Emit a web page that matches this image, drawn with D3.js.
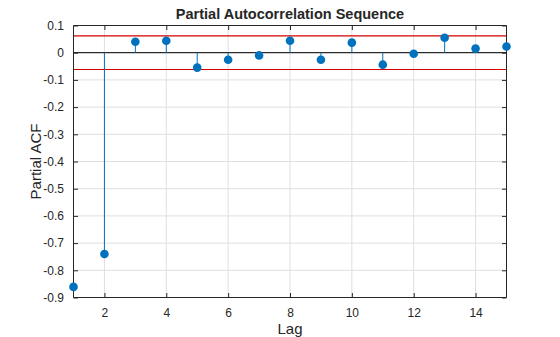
<!DOCTYPE html>
<html>
<head>
<meta charset="utf-8">
<script src="https://cdn.jsdelivr.net/npm/d3@7"></script>
<style>
  html, body { margin: 0; padding: 0; background: #fff; }
  svg { display: block; }
  text { font-family: "Liberation Sans", Arial, Helvetica, sans-serif; fill: #262626; }
</style>
</head>
<body>
<svg id="chart" width="560" height="337"></svg>
<script>
// ---- data ----
const lags = [1, 2, 3, 4, 5, 6, 7, 8, 9, 10, 11, 12, 13, 14, 15];
const pacf = [-0.861, -0.740, 0.040, 0.044, -0.055, -0.026, -0.010, 0.044, -0.026, 0.037, -0.044, -0.004, 0.055, 0.015, 0.023];
const bound = 0.062;
const xTicks = [2, 4, 6, 8, 10, 12, 14];
const yTicks = [0.1, 0, -0.1, -0.2, -0.3, -0.4, -0.5, -0.6, -0.7, -0.8, -0.9];
const titleText = "Partial Autocorrelation Sequence";
const xLabel = "Lag";
const yLabel = "Partial ACF";

// ---- layout ----
const svg = d3.select("#chart");
const L = 73.5, R = 506.5, T = 25.5, B = 297.5;
const x = d3.scaleLinear().domain([1, 15]).range([L, R]);
const y = d3.scaleLinear().domain([-0.9, 0.1]).range([B, T]);
const axisColor = "#262626";
const blue = "#0072BD";

// grid
const g = svg.append("g");
g.selectAll(".gx").data(xTicks).join("line")
  .attr("x1", d => x(d)).attr("x2", d => x(d)).attr("y1", T).attr("y2", B)
  .attr("stroke", "#dfdfdf").attr("stroke-width", 1);
g.selectAll(".gy").data(yTicks).join("line")
  .attr("y1", d => y(d)).attr("y2", d => y(d)).attr("x1", L).attr("x2", R)
  .attr("stroke", "#dfdfdf").attr("stroke-width", 1);

// zero line
g.append("line").attr("x1", L).attr("x2", R).attr("y1", y(0)).attr("y2", y(0))
  .attr("stroke", "#000").attr("stroke-width", 1);

// bounds
[bound, -bound].forEach(b => {
  g.append("line").attr("x1", L).attr("x2", R).attr("y1", y(b)).attr("y2", y(b))
    .attr("stroke", "#d40000").attr("stroke-width", 1.1);
});

// stems
const data = lags.map((l, i) => ({ lag: l, v: pacf[i] }));
g.selectAll(".stem").data(data).join("line")
  .attr("x1", d => x(d.lag)).attr("x2", d => x(d.lag))
  .attr("y1", y(0)).attr("y2", d => y(d.v))
  .attr("stroke", blue).attr("stroke-width", 1);

// axes (box)
const xb = svg.append("g").attr("transform", `translate(0,${B})`)
  .call(d3.axisBottom(x).tickValues(xTicks).tickSizeInner(-4.5).tickSizeOuter(0).tickPadding(11));
const xt = svg.append("g").attr("transform", `translate(0,${T})`)
  .call(d3.axisTop(x).tickValues(xTicks).tickSizeInner(-4.5).tickSizeOuter(0).tickFormat(""));
const yl = svg.append("g").attr("transform", `translate(${L},0)`)
  .call(d3.axisLeft(y).tickValues(yTicks).tickSizeInner(-4.5).tickSizeOuter(0).tickPadding(9.5)
    .tickFormat(d => d === 0 ? "0" : d3.format(".1f")(d).replace("−", "-")));
const yr = svg.append("g").attr("transform", `translate(${R},0)`)
  .call(d3.axisRight(y).tickValues(yTicks).tickSizeInner(-4.5).tickSizeOuter(0).tickFormat(""));
[xb, xt, yl, yr].forEach(a => {
  a.select(".domain").attr("stroke", axisColor).attr("stroke-width", 1);
  a.selectAll(".tick line").attr("stroke", axisColor);
  a.selectAll(".tick text").attr("fill", axisColor).style("font-size", "12px")
    .style("font-family", '"Liberation Sans", Arial, sans-serif');
});
// square corners on domain
[xb, xt].forEach(a => a.select(".domain").attr("d", `M${L},0H${R}`));
[yl, yr].forEach(a => a.select(".domain").attr("d", `M0,${T}V${B}`));

// markers
svg.selectAll(".dot").data(data).join("circle")
  .attr("cx", d => x(d.lag)).attr("cy", d => y(d.v)).attr("r", 4.3)
  .attr("fill", blue);

// labels
svg.append("text").attr("x", (L + R) / 2).attr("y", 19).attr("text-anchor", "middle")
  .style("font-size", "14.5px").style("font-weight", "bold").text(titleText);
svg.append("text").attr("x", (L + R) / 2).attr("y", 333.5).attr("text-anchor", "middle")
  .style("font-size", "15px").text(xLabel);
svg.append("text").attr("transform", `translate(40.5,${(T + B) / 2}) rotate(-90)`)
  .attr("text-anchor", "middle").style("font-size", "15px").text(yLabel);
</script>
</body>
</html>
